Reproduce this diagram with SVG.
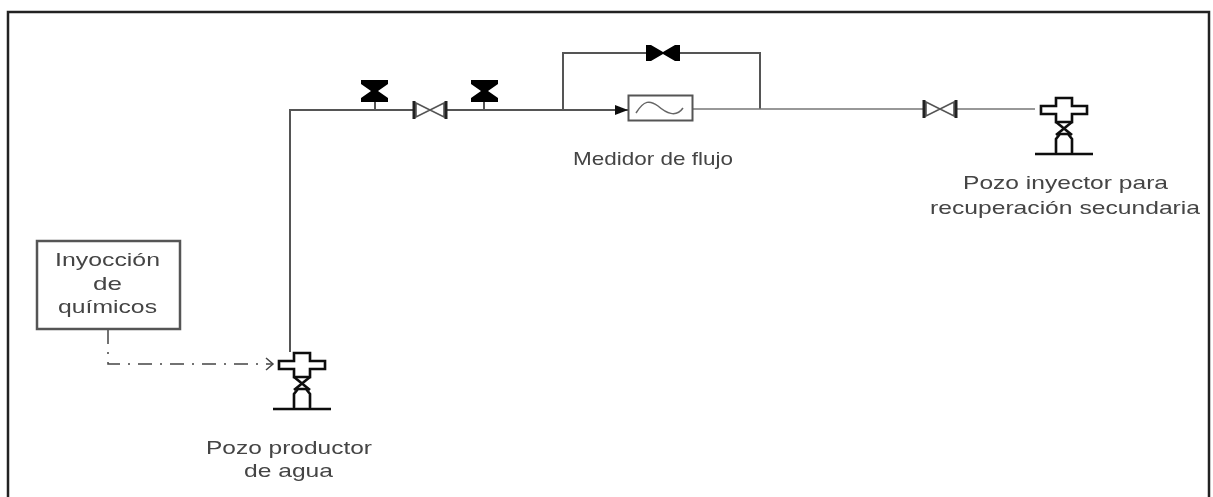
<svg xmlns="http://www.w3.org/2000/svg" width="1213" height="497" viewBox="0 0 1213 497">
<style>
text{font-family:"Liberation Sans",Arial,sans-serif;font-size:19px;fill:#444;stroke:none}
.pipe{fill:none;stroke:#555;stroke-width:2}
.thin{fill:none;stroke:#777;stroke-width:1.5}
.dash{fill:none;stroke:#444;stroke-width:1.5;stroke-dasharray:14 8 2 8}
.k{fill:none;stroke:#111;stroke-width:2.600}
.gv{fill:#fff;stroke:#555;stroke-width:1.6}
.bar{fill:none;stroke:#222;stroke-width:3}
.s{fill:#000}
</style>
<defs>
<filter id="soft" x="-2%" y="-2%" width="104%" height="104%"><feGaussianBlur stdDeviation="0.7"/></filter>
<marker id="ah" markerWidth="14" markerHeight="12" refX="13" refY="6" orient="auto" markerUnits="userSpaceOnUse"><path d="M0,1 L13,6 L0,11 Z" fill="#111"/></marker>
<marker id="ch" markerWidth="10" markerHeight="14" refX="8" refY="7" orient="auto" markerUnits="userSpaceOnUse"><path d="M1,1 L8,7 L1,13" fill="none" stroke="#444" stroke-width="1.500"/></marker>
<g id="well">
<path class="k" d="M-8,0 H8 V8 H23 V16 H8 V24 H-8 V16 H-23 V8 H-8 Z"/>
<path class="k" stroke-width="2" d="M-8,24 L8,37 M8,24 L-8,37"/>
<path class="k" d="M-8,56 V41 L-4,36 H4 L8,41 V56"/>
<path class="k" d="M-29,56 H29"/>
</g>
<g id="gate">
<path class="gv" d="M-14,-7 L0,0 L-14,7 Z M14,-7 L0,0 L14,7 Z"/>
<path class="bar" d="M-16,-9 V9 M16,-9 V9"/>
</g>
</defs>
<rect width="1213" height="497" fill="#fff"/>
<g filter="url(#soft)">
<path d="M8,497 V12 H1209 V497" fill="none" stroke="#222" stroke-width="2.500"/>
<g id="connectors">
<path class="pipe" d="M290,352 V110 H414"/>
<path class="pipe" marker-end="url(#ah)" d="M447,110 H628"/>
<path class="pipe" d="M563,110 V53 H646 M680,53 H760 V109"/>
<path class="thin" d="M693,109 H924 M957,109 H1035"/>
<path class="dash" marker-end="url(#ch)" d="M108,330 V364 H273"/>
<path class="pipe" d="M375,102 V110 M484,102 V110"/>
</g>
<g id="valve-1"><path class="s" d="M361,80 H388 V84 L378,91 L388,98 V102 H361 V98 L371,91 L361,84 Z"/></g>
<g id="valve-2"><use href="#gate" x="430" y="110"/></g>
<g id="valve-3"><path class="s" d="M471,80 H498 V84 L488,91 L498,98 V102 H471 V98 L481,91 L471,84 Z"/></g>
<g id="valve-bypass"><path class="s" d="M646,45 H651 L663,52 L675,45 H680 V61 H675 L663,54 L651,61 H646 Z"/></g>
<g id="medidor">
<rect x="628.500" y="95.500" width="64" height="25" fill="#fff" stroke="#555" stroke-width="2"/>
<path d="M636,113 C644,100 650,100 658,106 C666,113 676,118 683,108" fill="none" stroke="#666" stroke-width="1.500"/>
<text x="573" y="165" textLength="160" lengthAdjust="spacingAndGlyphs">Medidor de flujo</text>
</g>
<g id="valve-4"><use href="#gate" x="940" y="109"/></g>
<g id="pozo-inyector">
<use href="#well" x="1064" y="98"/>
<text x="963" y="189" textLength="205" lengthAdjust="spacingAndGlyphs">Pozo inyector para</text>
<text x="930" y="214" textLength="270" lengthAdjust="spacingAndGlyphs">recuperación secundaria</text>
</g>
<g id="quimicos">
<rect x="37" y="241" width="143" height="88" fill="#fff" stroke="#555" stroke-width="2.500"/>
<text x="55" y="266" textLength="105" lengthAdjust="spacingAndGlyphs">Inyocción</text>
<text x="93" y="290" textLength="29" lengthAdjust="spacingAndGlyphs">de</text>
<text x="58" y="313" textLength="99" lengthAdjust="spacingAndGlyphs">químicos</text>
</g>
<g id="pozo-productor">
<use href="#well" x="302" y="353"/>
<text x="206" y="454" textLength="166" lengthAdjust="spacingAndGlyphs">Pozo productor</text>
<text x="244" y="477" textLength="89" lengthAdjust="spacingAndGlyphs">de agua</text>
</g>
</g>
</svg>
